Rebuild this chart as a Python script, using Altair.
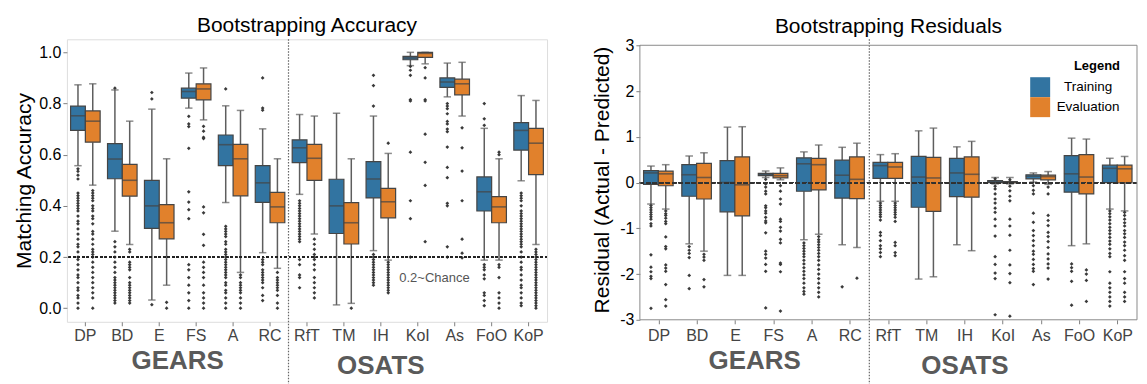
import altair as alt
import pandas as pd

FONT = "Liberation Sans"
CATS = ["DP", "BD", "E", "FS", "A", "RC", "RfT", "TM", "IH", "KoI", "As", "FoO", "KoP"]
SERIES = ["Training", "Evaluation"]
COLORS = ["#3274a1", "#e1812c"]
GROUP_LABELS = ["GEARS", "OSATS"]
GROUP_ANCHORS = ["FS", "IH"]

# ---------------- Bootstrapping Accuracy ----------------
ACC_TR_LOW = [0.557, 0.301, 0.032, 0.782, 0.413, 0.217, 0.445, 0.013, 0.225, 0.948, 0.826, 0.188, 0.498]
ACC_TR_Q1 = [0.695, 0.506, 0.312, 0.821, 0.557, 0.414, 0.569, 0.292, 0.431, 0.971, 0.863, 0.380, 0.618]
ACC_TR_MED = [0.752, 0.583, 0.400, 0.847, 0.639, 0.490, 0.627, 0.400, 0.505, 0.978, 0.884, 0.455, 0.695]
ACC_TR_Q3 = [0.790, 0.643, 0.500, 0.860, 0.677, 0.557, 0.658, 0.504, 0.573, 0.984, 0.900, 0.513, 0.725]
ACC_TR_HIGH = [0.873, 0.853, 0.778, 0.919, 0.791, 0.701, 0.757, 0.762, 0.751, 1.000, 0.958, 0.703, 0.831]

ACC_EV_LOW = [0.481, 0.249, 0.090, 0.736, 0.140, 0.156, 0.290, 0.019, 0.188, 0.955, 0.751, 0.188, 0.249]
ACC_EV_Q1 = [0.649, 0.438, 0.271, 0.814, 0.439, 0.334, 0.500, 0.251, 0.353, 0.980, 0.834, 0.334, 0.522]
ACC_EV_MED = [0.731, 0.500, 0.334, 0.857, 0.584, 0.396, 0.586, 0.334, 0.416, 0.996, 0.877, 0.396, 0.645]
ACC_EV_Q3 = [0.771, 0.562, 0.405, 0.877, 0.640, 0.453, 0.640, 0.413, 0.468, 1.000, 0.895, 0.436, 0.703]
ACC_EV_HIGH = [0.877, 0.731, 0.584, 0.939, 0.773, 0.584, 0.751, 0.584, 0.605, 1.000, 0.961, 0.584, 0.812]

ACC_TR_OUT = [
    [0.545, 0.535, 0.52, 0.505, 0.45, 0.44, 0.43, 0.42, 0.41, 0.40, 0.39, 0.38, 0.36, 0.34, 0.33, 0.31, 0.29,
     0.27, 0.25, 0.24, 0.22, 0.20, 0.19, 0.17, 0.15, 0.13, 0.12, 0.10, 0.08, 0.07, 0.05, 0.04, 0.02, 0.0],
    [0.86, 0.26, 0.24, 0.22, 0.20, 0.18, 0.16, 0.14, 0.12, 0.11, 0.10, 0.09, 0.08, 0.07, 0.06, 0.05, 0.04, 0.03, 0.02],
    [0.843, 0.818, 0.014],
    [0.75, 0.72, 0.71, 0.625, 0.455, 0.415, 0.385, 0.35, 0.17, 0.15, 0.12, 0.09, 0.06, 0.03, 0.0],
    [0.857, 0.32, 0.31, 0.30, 0.29, 0.28, 0.26, 0.25, 0.23, 0.22, 0.21, 0.20, 0.19, 0.18, 0.17, 0.16, 0.15, 0.14,
     0.13, 0.12, 0.10, 0.09, 0.07, 0.06, 0.04, 0.02, 0.0],
    [0.90, 0.782, 0.774, 0.19, 0.18, 0.17, 0.15, 0.14, 0.13, 0.12, 0.11, 0.10, 0.08, 0.05, 0.03],
    [0.42, 0.41, 0.40, 0.39, 0.38, 0.37, 0.36, 0.35, 0.34, 0.33, 0.32, 0.31, 0.30, 0.29, 0.28, 0.27, 0.26,
     0.19, 0.17, 0.13, 0.12, 0.08],
    [],
    [0.91, 0.87, 0.79, 0.21, 0.20, 0.19, 0.18, 0.17, 0.16, 0.15, 0.14, 0.13, 0.12, 0.11, 0.10, 0.09],
    [0.945, 0.93, 0.91, 0.815, 0.81, 0.61, 0.42, 0.35, 0.20],
    [0.80, 0.79, 0.78, 0.76, 0.73, 0.72, 0.70, 0.69, 0.63, 0.55, 0.51, 0.41, 0.40, 0.24, 0.20],
    [0.80, 0.74, 0.715, 0.17, 0.16, 0.15, 0.13, 0.115, 0.06, 0.05, 0.03, 0.01],
    [0.45, 0.44, 0.43, 0.42, 0.40, 0.38, 0.37, 0.36, 0.35, 0.34, 0.33, 0.32, 0.31, 0.30, 0.29, 0.28, 0.27,
     0.26, 0.25, 0.24, 0.22, 0.20, 0.18, 0.16, 0.15, 0.13, 0.11, 0.09, 0.08, 0.06, 0.04, 0.02, 0.01],
]
ACC_EV_OUT = [
    [0.46, 0.45, 0.44, 0.43, 0.42, 0.40, 0.39, 0.38, 0.36, 0.35, 0.33, 0.30, 0.29, 0.27, 0.25, 0.23, 0.22,
     0.21, 0.20, 0.18, 0.16, 0.14, 0.12, 0.10, 0.08, 0.06, 0.04, 0.0],
    [0.23, 0.22, 0.18, 0.17, 0.16, 0.15, 0.12, 0.10, 0.09, 0.08, 0.07, 0.06, 0.05, 0.04, 0.03, 0.02],
    [0.023, 0.0],
    [0.711, 0.692, 0.668, 0.663, 0.396, 0.373, 0.289, 0.246, 0.18, 0.16, 0.14, 0.12, 0.09, 0.06, 0.04, 0.02, 0.0],
    [0.13, 0.12, 0.10, 0.09, 0.08, 0.07, 0.06, 0.04, 0.02, 0.0],
    [0.14, 0.12, 0.11, 0.10, 0.09, 0.08, 0.07, 0.05, 0.02, 0.0],
    [0.27, 0.25, 0.23, 0.21, 0.20, 0.19, 0.17, 0.15, 0.12, 0.10, 0.08, 0.06, 0.04],
    [0.0],
    [0.645, 0.18, 0.17, 0.16, 0.15, 0.14, 0.13, 0.12, 0.11, 0.10, 0.09, 0.08, 0.07, 0.06],
    [0.94, 0.90, 0.815, 0.81, 0.68, 0.57, 0.48, 0.26],
    [0.705, 0.627, 0.536, 0.42, 0.27, 0.215, 0.197],
    [0.61, 0.60, 0.17, 0.16, 0.12, 0.06, 0.04, 0.02, 0.0],
    [0.23, 0.22, 0.21, 0.20, 0.19, 0.18, 0.17, 0.16, 0.15, 0.14, 0.13, 0.12, 0.11, 0.10, 0.09, 0.08, 0.07,
     0.06, 0.05, 0.04, 0.03, 0.02, 0.01, 0.0],
]

# ---------------- Bootstrapping Residuals ----------------
RES_TR_LOW = [-0.47, -1.34, -2.03, 0.11, -1.25, -1.36, -0.41, -2.11, -1.36, -0.03, 0.01, -1.38, -0.58]
RES_TR_Q1 = [-0.04, -0.30, -0.64, 0.15, -0.19, -0.34, 0.09, -0.54, -0.31, 0.00, 0.08, -0.21, 0.00]
RES_TR_MED = [0.21, 0.17, 0.00, 0.18, 0.41, 0.16, 0.37, 0.12, 0.21, 0.02, 0.14, 0.19, 0.31]
RES_TR_Q3 = [0.26, 0.39, 0.48, 0.20, 0.54, 0.49, 0.44, 0.57, 0.53, 0.04, 0.17, 0.59, 0.38]
RES_TR_HIGH = [0.36, 0.58, 1.21, 0.25, 0.67, 0.77, 0.61, 1.13, 0.78, 0.11, 0.21, 0.97, 0.53]

RES_EV_LOW = [-0.58, -1.50, -2.03, 0.06, -1.13, -1.42, -0.41, -2.06, -1.49, -0.03, -0.04, -1.34, -0.62]
RES_EV_Q1 = [-0.07, -0.36, -0.73, 0.10, -0.16, -0.35, 0.09, -0.63, -0.32, -0.01, 0.06, -0.25, -0.01]
RES_EV_MED = [0.19, 0.11, -0.05, 0.15, 0.39, 0.07, 0.34, 0.10, 0.18, 0.01, 0.13, 0.12, 0.30]
RES_EV_Q3 = [0.25, 0.42, 0.56, 0.20, 0.53, 0.56, 0.44, 0.55, 0.56, 0.02, 0.16, 0.61, 0.38]
RES_EV_HIGH = [0.39, 0.65, 1.22, 0.32, 0.82, 0.86, 0.63, 1.19, 0.90, 0.11, 0.24, 0.95, 0.57]

RES_TR_OUT = [
    [-0.5, -0.55, -0.6, -0.65, -0.7, -0.75, -0.8, -0.9, -0.95, -1.58, -1.85, -1.95, -2.05, -2.1, -2.75],
    [-1.4, -1.48, -1.55, -1.64, -2.03, -2.32],
    [],
    [0.07, -0.03, -0.1, -0.19, -0.25, -0.51, -0.55, -0.62, -0.67, -0.76, -0.84, -0.88, -1.1, -1.5, -1.57,
     -1.65, -1.79, -1.94, -2.74],
    [-1.32, -1.38, -1.44, -1.5, -1.56, -1.62, -1.7, -1.78, -1.86, -1.94, -2.02, -2.1, -2.2, -2.3, -2.38, -2.44],
    [-2.28],
    [-0.45, -0.5, -0.55, -0.6, -0.65, -0.7, -0.75, -0.82, -1.09, -1.16, -1.27, -1.38, -1.45, -1.53, -1.62],
    [],
    [],
    [0.08, -0.08, -0.14, -0.25, -0.36, -0.45, -0.56, -0.65, -0.8, -0.95, -1.17, -1.62, -1.79, -1.98, -2.1, -2.89],
    [-0.07, -0.17, -0.25, -0.67, -0.87, -1.05, -1.16, -1.27, -1.38, -1.5, -1.57, -1.68, -1.79, -1.88, -1.94, -2.23],
    [-1.78, -1.86, -1.94, -2.16, -2.68],
    [-0.62, -0.68, -0.75, -0.82, -0.9, -0.98, -1.05, -1.12, -1.2, -1.28, -1.35, -1.45, -1.55, -1.62, -1.95,
     -2.2, -2.3, -2.4, -2.5, -2.6, -2.7],
]
RES_EV_OUT = [
    [-0.62, -0.68, -0.72, -0.78, -0.85, -0.9, -1.19, -1.4, -1.45, -1.8, -1.87, -1.94, -2.23, -2.56, -2.7],
    [-1.57, -1.63, -1.7, -2.12, -2.28],
    [],
    [-0.07, -0.19, -0.36, -0.47, -0.8, -0.85, -0.98, -1.06, -1.24, -1.32, -1.76, -1.79, -1.95, -2.81],
    [-1.18, -1.25, -1.3, -1.36, -1.42, -1.48, -1.55, -1.62, -1.7, -1.8, -1.9, -2.0, -2.1, -2.2, -2.3, -2.4, -2.5],
    [-2.09],
    [-0.45, -0.5, -0.55, -0.6, -0.65, -0.7, -0.76, -0.85, -1.31, -1.38, -1.53, -1.6],
    [],
    [],
    [0.06, -0.08, -0.18, -0.3, -0.4, -0.8, -0.95, -1.15, -1.48, -1.8, -1.99, -2.19, -2.92],
    [-0.1, -0.25, -0.72, -0.83, -0.94, -1.09, -1.18, -1.29, -1.42, -1.56, -1.67, -1.78, -1.87, -2.11],
    [-1.91, -2.0, -2.14, -2.6],
    [-0.65, -0.72, -0.8, -0.88, -0.95, -1.05, -1.12, -1.2, -1.3, -1.38, -1.48, -1.6, -1.7, -1.95, -2.1,
     -2.2, -2.4, -2.5, -2.6],
]


def stats_frame(tr, ev):
    frames = []
    for name, (low, q1, med, q3, high) in zip(SERIES, [tr, ev]):
        frames.append(pd.DataFrame({"cat": CATS, "series": name, "low": low, "q1": q1,
                                    "med": med, "q3": q3, "high": high}))
    return pd.concat(frames, ignore_index=True)


def outlier_frame(tr, ev):
    rows = []
    for name, outs in zip(SERIES, [tr, ev]):
        for c, vals in zip(CATS, outs):
            for v in vals:
                rows.append({"cat": c, "series": name, "value": v})
    return pd.DataFrame(rows)


LINE = "#454545"
WHISK = "#5e5e5e"
FRAME = "#8a8a8a"


def panel(stats, outs, title, ytitle, ydomain, yvalues, label_expr, W, H, ref_y, ref_style,
          legend, label_pad, title_pad, g_dy, extra):
    box_w = W / len(CATS) * 0.4
    xscale = alt.Scale(domain=CATS, paddingInner=0, paddingOuter=0)
    xaxis = alt.Axis(title=None, labelAngle=0, labelFontSize=16, labelColor="#444444", labelFont=FONT,
                     tickColor="#808080", tickSize=4, labelPadding=label_pad, domain=False, grid=False,
                     labelAlign="center", bandPosition=0.5)
    X = alt.X("cat:N", scale=xscale, sort=CATS, axis=xaxis)
    XO = alt.XOffset("series:N", scale=alt.Scale(domain=SERIES, paddingInner=0, paddingOuter=0.25))
    yscale = alt.Scale(domain=ydomain, nice=False, zero=False)
    yaxis = alt.Axis(title=ytitle, values=yvalues, labelExpr=label_expr, labelFontSize=16,
                     labelColor="black", labelFont=FONT, titleFont=FONT, titleFontSize=21,
                     titleFontWeight="normal", titleColor="black", titlePadding=title_pad,
                     tickColor="#808080", tickSize=4, labelPadding=2, domain=False, grid=False)
    color = alt.Color("series:N", scale=alt.Scale(domain=SERIES, range=COLORS), legend=legend)

    base = alt.Chart(stats)
    w_low = base.mark_rule(color=WHISK, strokeWidth=1.5).encode(
        x=X, xOffset=XO, y=alt.Y("low:Q", scale=yscale, axis=yaxis), y2="q1:Q")
    w_high = base.mark_rule(color=WHISK, strokeWidth=1.5).encode(
        x=X, xOffset=XO, y=alt.Y("q3:Q", scale=yscale), y2="high:Q")
    cap_low = base.mark_tick(color=WHISK, thickness=1.5, size=box_w * 0.5).encode(
        x=X, xOffset=XO, y=alt.Y("low:Q", scale=yscale))
    cap_high = base.mark_tick(color=WHISK, thickness=1.5, size=box_w * 0.5).encode(
        x=X, xOffset=XO, y=alt.Y("high:Q", scale=yscale))
    boxes = base.mark_bar(stroke=LINE, strokeWidth=1.2, opacity=1).encode(
        x=X, xOffset=XO, y=alt.Y("q1:Q", scale=yscale), y2="q3:Q", color=color)
    meds = base.mark_tick(color=LINE, thickness=1.6, size=box_w).encode(
        x=X, xOffset=XO, y=alt.Y("med:Q", scale=yscale))
    pts = alt.Chart(outs).mark_point(shape="diamond", filled=True, size=14, color="#3a3a3a",
                                     opacity=1).encode(
        x=X, xOffset=XO, y=alt.Y("value:Q", scale=yscale))
    ref = alt.Chart(stats).mark_rule(**ref_style).encode(y=alt.datum(ref_y))
    divider = alt.Chart(pd.DataFrame({"cat": ["RfT"]})).mark_rule(
        color="#666666", strokeWidth=1.2, strokeDash=[1.5, 1.5]).encode(
        x=alt.X("cat:N", scale=xscale, sort=CATS, bandPosition=0), y=alt.value(0), y2=alt.value(H + 66))
    g1 = alt.Chart(pd.DataFrame({"cat": [GROUP_ANCHORS[0]], "label": [GROUP_LABELS[0]]})).mark_text(
        font=FONT, fontSize=26, fontWeight="bold", color="#5a5a5a", baseline="alphabetic").encode(
        x=alt.X("cat:N", scale=xscale, sort=CATS, bandPosition=0), y=alt.value(H + g_dy), text="label:N")
    g2 = alt.Chart(pd.DataFrame({"cat": [GROUP_ANCHORS[1]], "label": [GROUP_LABELS[1]]})).mark_text(
        font=FONT, fontSize=26, fontWeight="bold", color="#5a5a5a", baseline="alphabetic").encode(
        x=alt.X("cat:N", scale=xscale, sort=CATS, bandPosition=0.5), y=alt.value(H + g_dy + 5),
        text="label:N")
    layers = [w_low, w_high, cap_low, cap_high, boxes, meds, pts, ref, divider, g1, g2] + \
        extra(xscale, yscale, W, H)
    return alt.layer(*layers).properties(width=W, height=H, title=title)


def acc_extra(xscale, yscale, W, H):
    t = alt.Chart(pd.DataFrame({"cat": ["KoI"], "label": ["0.2~Chance"]})).mark_text(
        font=FONT, fontSize=13, color="#555555", align="left", baseline="middle").encode(
        x=alt.X("cat:N", scale=xscale, sort=CATS, bandPosition=0), y=alt.datum(0.12), text="label:N")
    return [t]


def res_extra(xscale, yscale, W, H):
    # plot frame drawn from the top tick (3) to the bottom of the plot
    frame = alt.Chart(pd.DataFrame({"top": [3.0]})).mark_rect(
        fill="transparent", stroke=FRAME, strokeWidth=1).encode(
        x=alt.value(0), x2=alt.value(W), y=alt.Y("top:Q", scale=yscale), y2=alt.value(H))
    return [frame]


left = panel(
    stats_frame([ACC_TR_LOW, ACC_TR_Q1, ACC_TR_MED, ACC_TR_Q3, ACC_TR_HIGH],
                [ACC_EV_LOW, ACC_EV_Q1, ACC_EV_MED, ACC_EV_Q3, ACC_EV_HIGH]),
    outlier_frame(ACC_TR_OUT, ACC_EV_OUT),
    alt.TitleParams("Bootstrapping Accuracy", font=FONT, fontSize=21, fontWeight="normal",
                    color="black", offset=3),
    "Matching Accuracy", [-0.053, 1.051], [0, 0.2, 0.4, 0.6, 0.8, 1.0], "format(datum.value, '.1f')",
    481, 283, 0.2, {"color": "#222222", "strokeWidth": 1.3, "strokeDash": [2, 2.5]},
    None, 2, 4, 47, acc_extra)

legend = alt.Legend(title="Legend", orient="none", legendX=391, legendY=21, titleFont=FONT,
                    titleFontSize=13, titleFontWeight="bold", titleColor="black", titleAnchor="end",
                    titlePadding=4, labelFont=FONT, labelFontSize=13.5, labelColor="black",
                    labelAlign="center", labelOffset=38, symbolType="square", symbolSize=400,
                    symbolStrokeWidth=0, rowPadding=0, symbolOpacity=1)

right = panel(
    stats_frame([RES_TR_LOW, RES_TR_Q1, RES_TR_MED, RES_TR_Q3, RES_TR_HIGH],
                [RES_EV_LOW, RES_EV_Q1, RES_EV_MED, RES_EV_Q3, RES_EV_HIGH]),
    outlier_frame(RES_TR_OUT, RES_EV_OUT),
    alt.TitleParams("Bootstrapping Residuals", font=FONT, fontSize=21, fontWeight="normal",
                    color="black", offset=0),
    "Residual (Actual -  Predicted)", [-3.0, 3.131], [-3, -2, -1, 0, 1, 2, 3], "toString(datum.value)",
    498, 281, 0, {"color": "#333333", "strokeWidth": 1.2, "strokeDash": [4, 2.5]},
    legend, 4, 7, 49, res_extra).properties(view=alt.ViewBackground(stroke="transparent"))

chart = alt.hconcat(left, right, spacing=42).resolve_scale(color="independent").properties(
    padding={"left": 5, "top": 5, "right": 0, "bottom": 0}
).configure_view(stroke=FRAME, strokeWidth=1).configure(font=FONT)

chart.save("out.html", embed_options={"renderer": "svg", "actions": False})
